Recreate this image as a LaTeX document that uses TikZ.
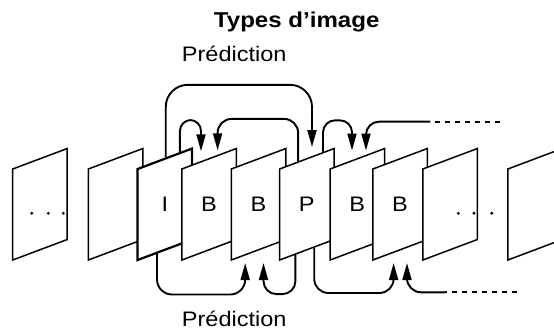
\documentclass[tikz,border=0pt]{standalone}
\usepackage{fontspec}
\setmainfont[FakeStretch=1.12]{Liberation Sans}
\usetikzlibrary{arrows.meta,calc}

\begin{document}
\begin{tikzpicture}[x=1pt,y=-1pt,
    frame/.style={draw=black, fill=white, line width=1.5pt, inner sep=0pt,
        minimum width=54.5pt, minimum height=91pt, yslant=0.376},
    lbl/.style={font=\fontsize{21}{25}\selectfont},
    arr/.style={line width=1.9pt, -{Triangle[length=17pt,width=9pt]}},
    dashline/.style={line width=1.9pt, dash pattern=on 5pt off 5pt}]
    \useasboundingbox (0,0) rectangle (554,331);

    % titre et libelles
    \node[font=\bfseries\fontsize{21.5}{26}\selectfont, anchor=base] (title) at (296.7,27.3) {Types d’image};
    \node[lbl, anchor=base] (predtop) at (234.2,61.7) {Prédiction};
    \node[lbl, anchor=base] (predbot) at (234.2,326) {Prédiction};

    % les images, de l'arriere vers l'avant
    \foreach \n/\x/\w in {f1/39.9/1.5pt, f2/115.5/1.5pt, fI/164.8/2.2pt, fB1/209/1.5pt,
        fB2/258.5/1.5pt, fP/306.8/1.5pt, fB3/357.3/1.5pt, fB4/400/1.5pt, fD/450/1.5pt, f10/535/1.5pt} {
        \node[frame, line width=\w] (\n) at (\x,204.3) {};
    }
    \foreach \n/\t in {fI/I, fB1/B, fB2/B, fP/P, fB3/B, fB4/B} {
        \node[lbl] (l\n) at (\n) {\t};
    }
    % points de suspension
    \foreach \x in {31.7,48.3,63.3,458.3,474,491.7} {
        \fill (\x,213.3) circle (1.6pt);
    }

    % prediction par le haut
    \coordinate (sBig) at ($(fI.north west)!0.517!(fI.north east)$);
    \coordinate (eBig) at ($(fP.north west)+(33.2,-21.5)$);
    \draw[arr, rounded corners=22pt] (sBig) -- ++(0,-72.5) -| (eBig);
    \coordinate (sIB1) at ($(fI.north west)!0.767!(fI.north east)$);
    \coordinate (eIB1) at ($(fB1.north west)+(20,-17.3)$);
    \draw[arr, rounded corners=11pt] (sIB1) -- ++(0,-32) -| (eIB1);
    \coordinate (sPB1) at ($(fP.north west)!0.345!(fP.north east)$);
    \coordinate (ePB1) at ($(fB1.north west)+(36.6,-18.3)$);
    \draw[arr, rounded corners=14pt] (sPB1) -- ++(0,-42.4) -| (ePB1);
    \coordinate (sPB3) at ($(fP.north west)!0.79!(fP.north east)$);
    \coordinate (ePB3) at ($(fB3.north west)+(22.7,-18)$);
    \draw[arr, rounded corners=12pt] (sPB3) -- ++(0,-31.6) -| (ePB3);
    \coordinate (nxtTop) at (500,121.7);
    \coordinate (jTop) at (430,121.7);
    \coordinate (eNB3) at ($(fB3.north west)+(36.7,-18)$);
    \draw[dashline] (nxtTop) -- (jTop);
    \draw[arr, rounded corners=13pt] (jTop) -| (eNB3);

    % prediction par le bas
    \coordinate (sIB2) at ($(fI.south west)!0.363!(fI.south east)$);
    \coordinate (eIB2) at ($(fB2.south west)+(14.7,2)$);
    \draw[arr, rounded corners=15pt] (sIB2) -- ++(0,40.7) -| (eIB2);
    \coordinate (sPB2) at ($(fP.south west)!0.297!(fP.south east)$);
    \coordinate (ePB2) at ($(fB2.south west)+(33,2)$);
    \draw[arr, rounded corners=13pt] (sPB2) -- ++(0,39.3) -| (ePB2);
    \coordinate (sPB4) at ($(fP.south west)!0.633!(fP.south east)$);
    \coordinate (ePB4) at ($(fB4.south west)+(21.6,2)$);
    \draw[arr, rounded corners=14pt] (sPB4) -- ++(0,45.2) -| (ePB4);
    \coordinate (nxtBot) at (517,292.3);
    \coordinate (jBot) at (445,292.3);
    \coordinate (eNB4) at ($(fB4.south west)+(35,2)$);
    \draw[dashline] (nxtBot) -- (jBot);
    \draw[arr, rounded corners=14pt] (jBot) -| (eNB4);
\end{tikzpicture}
\end{document}
